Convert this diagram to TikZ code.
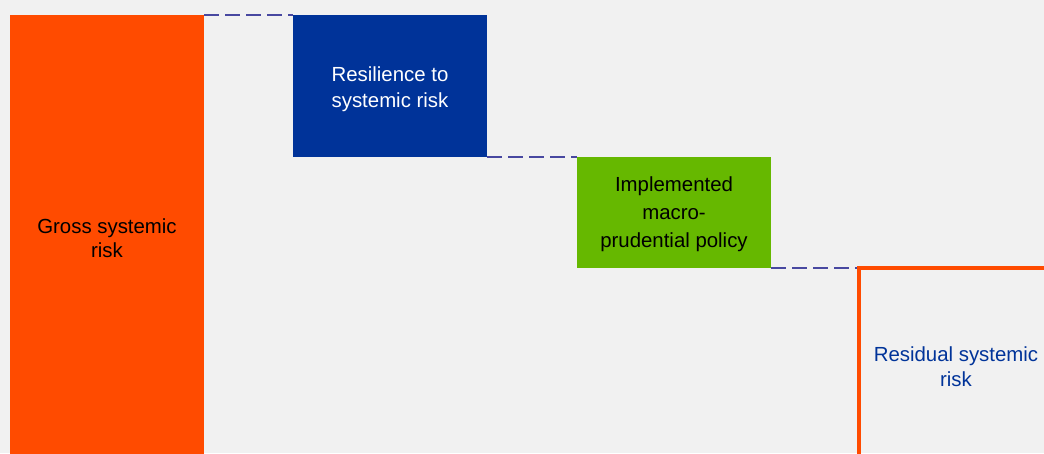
\documentclass[tikz,border=0pt]{standalone}
\usepackage{fontspec}
\setmainfont{Liberation Sans}
\definecolor{bg}{HTML}{F1F1F1}
\definecolor{orng}{HTML}{FF4B00}
\definecolor{blu}{HTML}{003399}
\definecolor{grn}{HTML}{66B800}
\definecolor{dashc}{RGB}{72,72,160}
\newcommand{\lowr}[2]{\raisebox{-#1}[\height][\depth]{#2}}
\begin{document}
\begin{tikzpicture}[x=1pt,y=-1pt,
  box/.style={rectangle, inner sep=0pt, outer sep=0pt, anchor=north west, minimum width=194pt, align=center, font=\fontsize{20.4}{24.5}\selectfont},
  conn/.style={draw=dashc, line width=2pt, dash pattern=on 15pt off 6pt}]
\useasboundingbox (0,0) rectangle (1044,453);
\clip (0,0) rectangle (1044,453);
\fill[bg] (0,0) rectangle (1044,453);
\node[box, fill=orng, minimum height=446pt, text=black] (gross) at (10,15) {Gross systemic\\risk};
\node[box, fill=blu, minimum height=141.5pt, text=white, font=\fontsize{20.4}{26}\selectfont] (resil) at (293,15) {\lowr{3pt}{Resilience to}\\\lowr{3pt}{systemic risk}};
\node[box, fill=grn, minimum height=111pt, text=black, font=\fontsize{20.4}{28}\selectfont] (impl) at (577,156.5) {\lowr{2pt}{Implemented}\\\lowr{2pt}{macro-}\\\lowr{2pt}{prudential policy}};
\node[box, draw=orng, line width=4pt, minimum height=198pt, text=blu] (resid) at (859,267.5) {Residual systemic\\risk};
\draw[conn] (gross.north east) -- (resil.north west);
\draw[conn] (resil.south east) -- (impl.north west);
\draw[conn, shorten >=2pt] (impl.south east) -- (impl.south east -| resid.west);
\end{tikzpicture}
\end{document}
